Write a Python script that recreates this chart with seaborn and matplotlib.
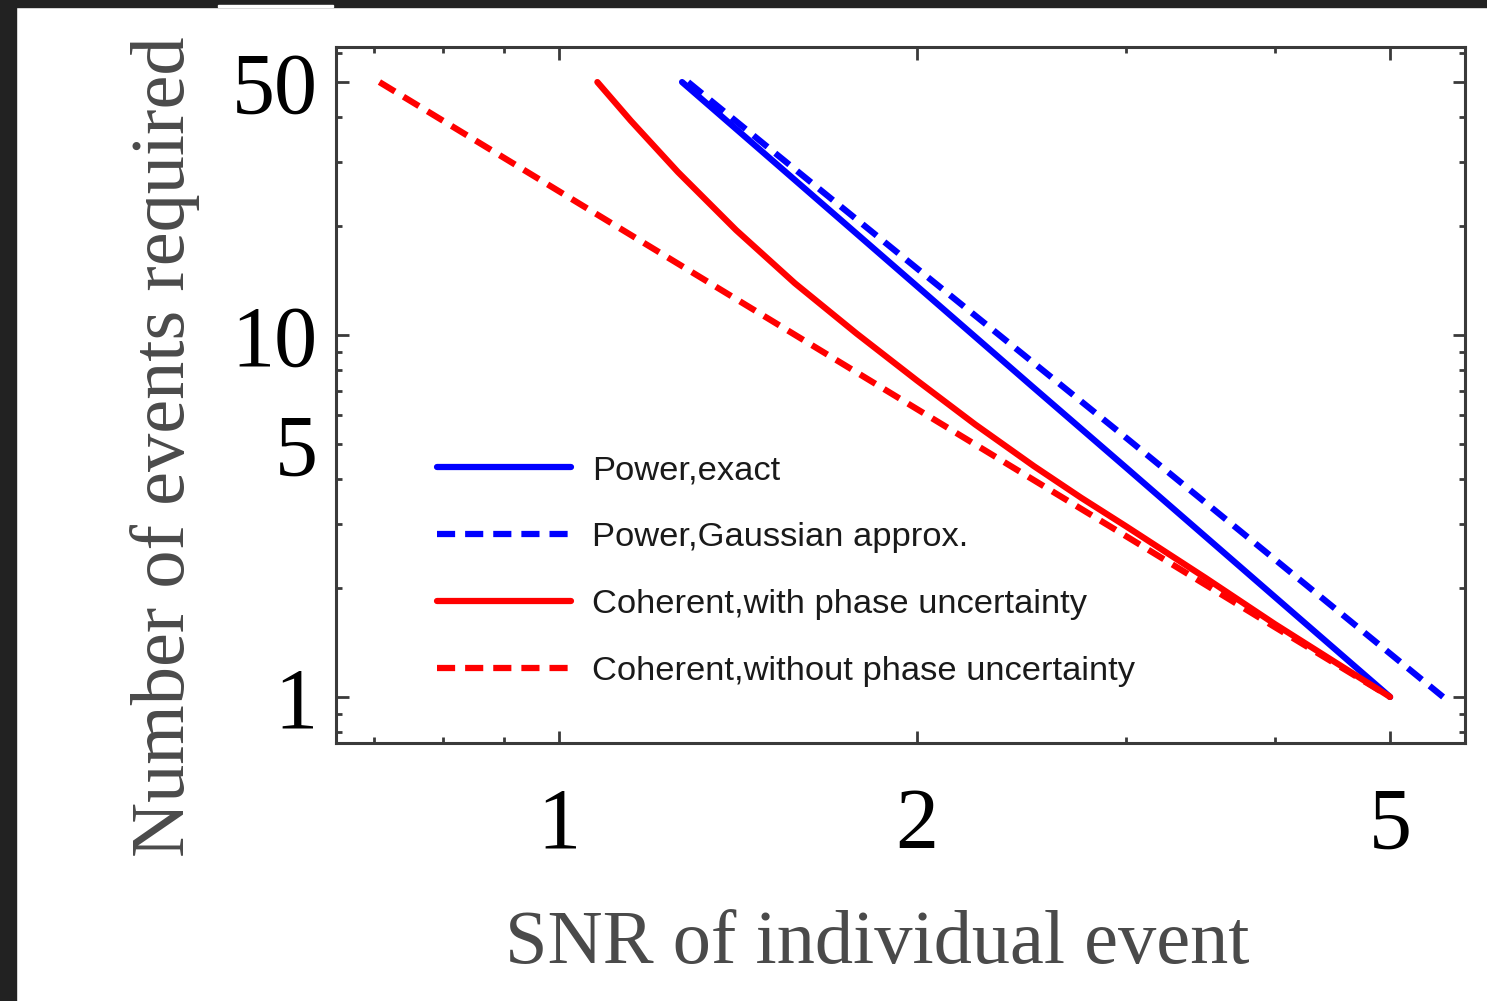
import numpy as np
import pandas as pd
import matplotlib
matplotlib.use("Agg")
import matplotlib.pyplot as plt
from matplotlib.patches import Rectangle
from matplotlib.ticker import FixedLocator, FixedFormatter, NullFormatter, FuncFormatter
import seaborn as sns

# Number of events needed for a detection vs. SNR of a single event
power_exact_snr = [1.27, 1.5, 2.0, 2.5, 3.0, 4.0, 5.0]
power_exact_n = [50, 31.1, 13.67, 7.22, 4.30, 1.89, 1.0]

power_gauss_snr = [1.285, 1.5, 2.0, 3.0, 4.0, 5.54]
power_gauss_n = [50, 33, 15.3, 5.2, 2.4, 1.0]

coh_phase_snr = [1.078, 1.15, 1.26, 1.41, 1.58, 1.78, 2.0, 2.24, 2.51, 2.75, 3.0, 3.5, 4.0, 5.0]
coh_phase_n = [50, 39.1, 28.2, 19.5, 13.9, 10.1, 7.5, 5.66, 4.34, 3.55, 2.96, 2.13, 1.59, 1.0]

coh_nophase_snr = [0.707, 1.0, 2.0, 3.0, 4.0, 5.0]
coh_nophase_n = [50, 25, 6.25, 2.78, 1.56, 1.0]

series_labels = [
    "Power,exact",
    "Power,Gaussian approx.",
    "Coherent,with phase uncertainty",
    "Coherent,without phase uncertainty",
]
x_tick_values = [1, 2, 5]
x_tick_labels = ["1", "2", "5"]
y_tick_values = [1, 10, 50]
y_tick_labels = ["1", "10", "50"]
y_minor_labelled = 5

frames = []
for lab, xs, ys in zip(series_labels,
                       [power_exact_snr, power_gauss_snr, coh_phase_snr, coh_nophase_snr],
                       [power_exact_n, power_gauss_n, coh_phase_n, coh_nophase_n]):
    frames.append(pd.DataFrame({"snr": xs, "n": ys, "series": lab}))
df = pd.concat(frames, ignore_index=True)

sns.set_theme(style="ticks")
plt.rcParams["font.family"] = ["Liberation Serif", "DejaVu Serif"]

W, H = 1487, 1001
fig = plt.figure(figsize=(W / 100, H / 100), dpi=100)
fig.patch.set_facecolor("white")
ax = fig.add_axes([336 / W, 1 - 743 / H, (1465 - 336) / W, (743 - 47) / H])

palette = {series_labels[0]: "#0000ff", series_labels[1]: "#0000ff",
           series_labels[2]: "#ff0000", series_labels[3]: "#ff0000"}
dashes = {series_labels[0]: "", series_labels[1]: (2.9, 1.6),
          series_labels[2]: "", series_labels[3]: (2.9, 1.6)}

sns.lineplot(data=df, x="snr", y="n", hue="series", style="series",
             hue_order=series_labels, style_order=series_labels,
             palette=palette, dashes=dashes, sort=False, estimator=None,
             linewidth=4.5, legend=False, ax=ax)

ax.set_xscale("log")
ax.set_yscale("log")
ax.set_xlim(0.65, 5.78)
ax.set_ylim(0.746, 62.5)

ax.xaxis.set_major_locator(FixedLocator(x_tick_values))
ax.xaxis.set_major_formatter(FixedFormatter(x_tick_labels))
ax.xaxis.set_minor_locator(FixedLocator([0.7, 0.8, 0.9, 3, 4]))
ax.xaxis.set_minor_formatter(NullFormatter())

ax.yaxis.set_major_locator(FixedLocator(y_tick_values))
ax.yaxis.set_major_formatter(FixedFormatter(y_tick_labels))
ax.yaxis.set_minor_locator(FixedLocator([0.8, 0.9, 2, 3, 4, 5, 6, 7, 8, 9, 20, 30, 40, 60]))
ax.yaxis.set_minor_formatter(FuncFormatter(
    lambda v, p: str(y_minor_labelled) if abs(v - y_minor_labelled) < 1e-9 else ""))

ax.set_xlabel("")
ax.set_ylabel("")

for s in ax.spines.values():
    s.set_color("#3a3a3a")
    s.set_linewidth(2.2)

ax.tick_params(which="both", direction="in", top=True, right=True,
               color="#3a3a3a", width=2.0, labelsize=62, labelcolor="black")
ax.tick_params(which="major", length=9)
ax.tick_params(which="minor", length=4.5)
ax.tick_params(axis="x", which="both", pad=32)
ax.tick_params(axis="y", which="both", pad=13)

leg = ax.legend(ax.lines[:4], series_labels, loc="upper left",
                bbox_to_anchor=((437 - 336) / (1465 - 336), (743 - 455) / (743 - 47)),
                frameon=False, borderpad=0, borderaxespad=0,
                handlelength=3.9, handletextpad=0.6, labelspacing=1.04,
                prop={"family": "Liberation Sans", "size": 24.8})
for t in leg.get_texts():
    t.set_color("#1a1a1a")

fig.text(165 / W, 1 - 447 / H, "Number of events required", rotation=90,
         ha="center", va="center", fontsize=55, color="#4a4a4a")
fig.text(877 / W, 1 - 963 / H, "SNR of individual event",
         ha="center", va="baseline", fontsize=55, color="#4a4a4a")

# dark window frame along the top and left edges
fig.add_artist(Rectangle((0, 1 - 7 / H), 1, 7 / H, transform=fig.transFigure,
                         color="#222222", zorder=10))
fig.add_artist(Rectangle((218 / W, 1 - 7 / H), (333 - 218) / W, 2 / H,
                         transform=fig.transFigure, color="white", zorder=11))
fig.add_artist(Rectangle((0, 0), 16 / W, 1, transform=fig.transFigure,
                         color="#222222", zorder=10))

fig.savefig("out.png", dpi=100)
